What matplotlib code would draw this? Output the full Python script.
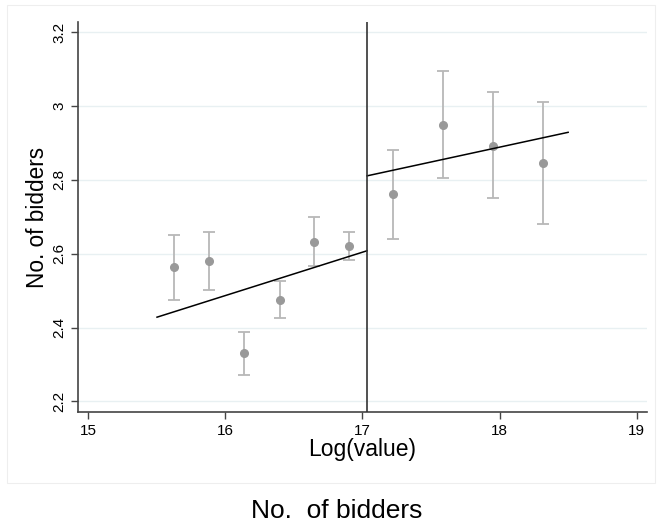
import matplotlib
matplotlib.use("Agg")
import matplotlib.pyplot as plt
from matplotlib.patches import Rectangle

plt.rcParams['font.family'] = ['Liberation Sans', 'DejaVu Sans']

# Binned means with confidence intervals
x_left = [15.627, 15.882, 16.139, 16.40, 16.65, 16.906]
y_left = [2.563, 2.580, 2.330, 2.475, 2.633, 2.621]
lo_left = [2.475, 2.503, 2.272, 2.425, 2.568, 2.584]
hi_left = [2.652, 2.660, 2.387, 2.525, 2.699, 2.659]

x_right = [17.22, 17.587, 17.95, 18.32]
y_right = [2.762, 2.950, 2.893, 2.846]
lo_right = [2.641, 2.805, 2.750, 2.680]
hi_right = [2.882, 3.095, 3.037, 3.012]

# Fitted lines
fit_left_x = [15.503, 17.034]
fit_left_y = [2.428, 2.608]
fit_right_x = [17.034, 18.50]
fit_right_y = [2.811, 2.929]

cutoff = 17.034
xticks = [15, 16, 17, 18, 19]
yticks = [2.2, 2.4, 2.6, 2.8, 3.0, 3.2]
ytick_labels = ['2.2', '2.4', '2.6', '2.8', '3', '3.2']

fig = plt.figure(figsize=(6.6, 5.22), dpi=100)
# faint outer graph region frame
fig.patches.append(Rectangle((7/660, 1 - 483/522), 648/660, 478/522,
                             transform=fig.transFigure, fill=False,
                             edgecolor='#eeeeee', linewidth=0.8))
ax = fig.add_axes([78/660, 1 - 412/522, (647 - 78)/660, (412 - 22)/522])

for xs, ys, lo, hi in [(x_left, y_left, lo_left, hi_left),
                       (x_right, y_right, lo_right, hi_right)]:
    yerr = [[y - l for y, l in zip(ys, lo)], [h - y for y, h in zip(ys, hi)]]
    ax.errorbar(xs, ys, yerr=yerr, fmt='none', ecolor='#b8b8b8',
                elinewidth=1.3, capsize=4, capthick=1.3, zorder=2)
    ax.plot(xs, ys, 'o', color='#999999', markersize=5.5, zorder=3)

ax.plot(fit_left_x, fit_left_y, color='black', linewidth=1.1, zorder=4)
ax.plot(fit_right_x, fit_right_y, color='black', linewidth=1.1, zorder=4)
ax.axvline(cutoff, color='#333333', linewidth=1.2, zorder=5)

ax.set_xlim(14.927, 19.075)
ax.set_ylim(2.171, 3.228)
ax.set_xticks(xticks)
ax.set_yticks(yticks)
ax.set_yticklabels(ytick_labels, rotation=90, va='center')
ax.tick_params(axis='both', labelsize=11, color='#444444', length=5, width=1)
ax.grid(axis='y', color='#e8f0f2', linewidth=1)
ax.set_axisbelow(True)
for s in ['top', 'right']:
    ax.spines[s].set_visible(False)
for s in ['left', 'bottom']:
    ax.spines[s].set_color('#444444')
    ax.spines[s].set_linewidth(1.2)

ax.set_xlabel('Log(value)', fontsize=16.5, labelpad=0)
ax.set_ylabel('No. of bidders', fontsize=16.3, labelpad=2)

fig.text(337/660, 1 - 518/522, 'No.  of bidders', fontsize=19,
         ha='center', va='baseline')

fig.savefig('out.png', dpi=100)
